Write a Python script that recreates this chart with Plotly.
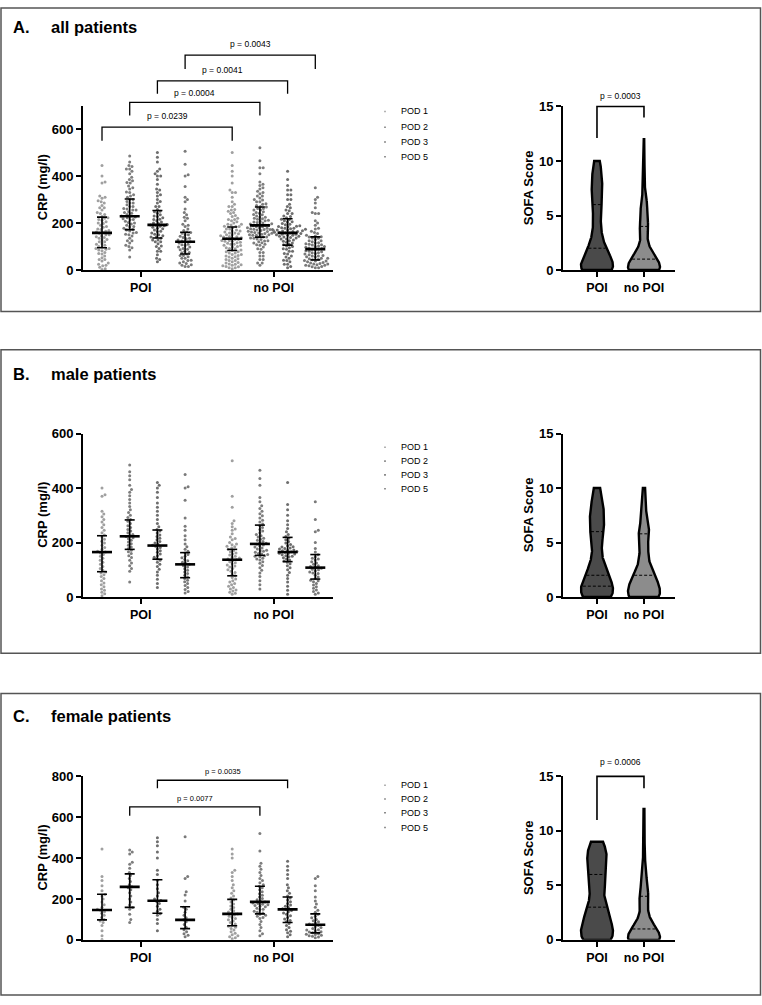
import numpy as np
import plotly.graph_objects as go

W, H = 762, 1005
FONT = "Liberation Sans"

pod_names = ["POD 1", "POD 2", "POD 3", "POD 5"]
group_names = ["POI", "no POI"]
pod_colors = ["#a0a0a0", "#7e7e7e", "#6e6e6e", "#7a7a7a"]

# ---------------- CRP (mg/l), male patients ----------------
male_poi_1 = [5, 12, 18, 25, 30, 38, 45, 52, 60, 68, 75, 82, 88, 92, 98, 105, 112, 120, 128, 135, 142, 150, 156, 162, 165, 168, 175, 182, 190, 198, 205, 212, 220, 228, 236, 245, 255, 265, 275, 285, 295, 305, 315, 370, 375, 400]
male_poi_2 = [55, 95, 105, 115, 125, 135, 145, 152, 160, 166, 172, 178, 184, 190, 196, 202, 208, 214, 218, 222, 226, 230, 236, 242, 248, 255, 262, 270, 278, 285, 292, 300, 310, 320, 332, 345, 358, 372, 385, 395, 410, 430, 445, 460, 485]
male_poi_3 = [35, 50, 65, 80, 92, 102, 112, 120, 128, 135, 140, 146, 152, 158, 164, 170, 176, 182, 186, 190, 194, 198, 204, 210, 216, 222, 228, 235, 242, 248, 258, 270, 285, 300, 315, 330, 345, 365, 385, 400, 410, 420]
male_poi_5 = [15, 20, 28, 35, 42, 50, 56, 62, 68, 74, 80, 86, 92, 98, 104, 110, 115, 120, 124, 128, 133, 138, 144, 150, 156, 162, 168, 175, 185, 195, 210, 225, 245, 260, 290, 355, 400, 405, 450]
male_nopoi_1 = [10, 14, 18, 22, 26, 30, 35, 40, 45, 50, 55, 60, 66, 72, 78, 84, 90, 95, 100, 105, 110, 114, 118, 122, 126, 130, 134, 137, 140, 143, 146, 150, 154, 158, 162, 166, 170, 175, 180, 185, 186, 192, 195, 200, 210, 215, 220, 232, 245, 250, 258, 270, 280, 330, 370, 500]
male_nopoi_2 = [30, 45, 60, 75, 88, 98, 108, 116, 124, 130, 136, 140, 142, 148, 150, 152, 156, 158, 160, 164, 168, 170, 172, 176, 180, 184, 188, 191, 194, 197, 200, 204, 208, 212, 216, 220, 225, 230, 236, 242, 248, 255, 262, 268, 275, 282, 290, 298, 306, 315, 325, 335, 350, 365, 410, 435, 465]
male_nopoi_3 = [10, 25, 40, 55, 68, 80, 90, 100, 108, 115, 122, 128, 132, 136, 140, 144, 148, 150, 152, 155, 158, 160, 161, 164, 166, 167, 170, 172, 173, 176, 178, 180, 184, 185, 188, 193, 198, 204, 210, 216, 222, 230, 240, 252, 265, 280, 300, 320, 340, 420]
male_nopoi_5 = [10, 15, 20, 26, 32, 38, 44, 50, 56, 60, 62, 68, 74, 80, 86, 88, 92, 97, 100, 102, 106, 110, 112, 115, 120, 125, 130, 136, 140, 142, 148, 155, 165, 178, 200, 240, 245, 285, 350]

# ---------------- CRP (mg/l), female patients ----------------
female_poi_1 = [2, 20, 45, 70, 85, 92, 100, 110, 120, 130, 138, 145, 150, 160, 172, 185, 200, 215, 222, 240, 265, 290, 310, 445]
female_poi_2 = [85, 100, 125, 150, 158, 170, 185, 200, 215, 230, 245, 255, 260, 270, 285, 300, 315, 330, 350, 370, 380, 420, 430, 440]
female_poi_3 = [45, 80, 100, 120, 128, 140, 150, 165, 178, 188, 192, 200, 215, 230, 250, 270, 292, 320, 340, 400, 430, 460, 480, 500]
female_poi_5 = [15, 22, 30, 40, 50, 62, 75, 88, 98, 108, 120, 135, 150, 160, 190, 220, 235, 300, 310, 505]
female_nopoi_1 = [5, 10, 15, 20, 25, 32, 40, 48, 56, 62, 66, 72, 78, 85, 92, 98, 104, 110, 116, 122, 126, 130, 136, 142, 150, 158, 166, 175, 185, 195, 205, 215, 228, 240, 255, 270, 290, 310, 330, 340, 400, 420, 445]
female_nopoi_2 = [20, 30, 45, 60, 75, 90, 105, 110, 115, 120, 125, 132, 135, 140, 148, 150, 155, 162, 165, 168, 172, 174, 178, 180, 185, 190, 196, 202, 210, 218, 226, 235, 245, 255, 262, 270, 280, 290, 300, 315, 330, 345, 360, 375, 435, 520]
female_nopoi_3 = [15, 25, 35, 42, 50, 60, 70, 80, 88, 95, 102, 110, 118, 125, 132, 138, 144, 148, 152, 158, 164, 170, 178, 186, 195, 205, 215, 228, 240, 255, 270, 300, 320, 340, 360, 385]
female_nopoi_5 = [10, 14, 18, 20, 22, 26, 28, 30, 35, 38, 40, 45, 48, 50, 55, 60, 65, 70, 74, 78, 82, 88, 94, 100, 108, 116, 125, 135, 145, 160, 175, 190, 210, 240, 265, 300, 310]

# ---------------- medians and interquartile ranges (POD 1, 2, 3, 5) ----------------
all_median_poi = [158, 229, 192, 120]
all_q1_poi = [95, 172, 136, 68]
all_q3_poi = [225, 302, 253, 161]
all_median_nopoi = [133, 190, 158, 89]
all_q1_nopoi = [83, 140, 106, 43]
all_q3_nopoi = [183, 268, 218, 141]

male_median_poi = [165, 223, 189, 120]
male_q1_poi = [93, 175, 139, 71]
male_q3_poi = [225, 283, 246, 163]
male_median_nopoi = [137, 195, 165, 108]
male_q1_nopoi = [78, 153, 130, 66]
male_q3_nopoi = [175, 264, 219, 156]

female_median_poi = [146, 259, 191, 98]
female_q1_poi = [98, 159, 130, 55]
female_q3_poi = [223, 323, 294, 162]
female_median_nopoi = [127, 186, 149, 74]
female_q1_nopoi = [69, 127, 85, 34]
female_q3_nopoi = [198, 262, 210, 127]

# ---------------- SOFA score frequency tables ----------------
sofa_scores = [0, 1, 2, 3, 4, 5, 6, 7, 8, 9, 10, 11, 12]
sofa_all_poi = [24, 20, 12, 7, 5, 5, 6, 7, 7, 6, 4, 0, 0]
sofa_all_nopoi = [70, 50, 20, 10, 18, 10, 14, 4, 3, 2, 2, 1, 1]
sofa_male_poi = [14, 14, 10, 6, 4, 4, 6, 6, 6, 4, 3, 0, 0]
sofa_male_nopoi = [40, 35, 25, 12, 10, 8, 14, 6, 5, 3, 3, 0, 0]
sofa_female_poi = [10, 10, 8, 6, 4, 5, 5, 6, 6, 4, 0, 0, 0]
sofa_female_nopoi = [30, 20, 8, 5, 8, 4, 4, 2, 1, 1, 1, 0, 1]

# quartile lines drawn in the violins [POI, no POI]
sofa_all_median = [2, 1]
sofa_all_q3 = [6, 4]
sofa_male_median = [2, 2]
sofa_male_q1 = [1, None]
sofa_male_q3 = [6, 5.8]
sofa_female_median = [3, 1]
sofa_female_q3 = [6, 4]

# ---------------- layout geometry (pixels) ----------------
SX_PX = (83, 333)
SX_RANGE = [0.314, 9.339]
VX_PX = (563, 675)
VX_RANGE = [-0.723, 1.66]
poi_pos = [1, 2, 3, 4]
nopoi_pos = [5.7, 6.7, 7.7, 8.7]
group_ticks = [2.4, 7.2]

panels = [
    dict(letter="A.", title="all patients", box=(1, 309), title_y=20,
         sy_px=(100, 267), sy_range=[0, 700], sy_ticks=[0, 200, 400, 600],
         vy_px=(101, 267), legend_y=[106, 122, 137, 152],
         poi=[male_poi_1 + female_poi_1, male_poi_2 + female_poi_2,
              male_poi_3 + female_poi_3, male_poi_5 + female_poi_5],
         nopoi=[male_nopoi_1 + female_nopoi_1, male_nopoi_2 + female_nopoi_2,
                male_nopoi_3 + female_nopoi_3, male_nopoi_5 + female_nopoi_5],
         med=(all_median_poi, all_median_nopoi), q1=(all_q1_poi, all_q1_nopoi),
         q3=(all_q3_poi, all_q3_nopoi),
         sofa=(sofa_all_poi, sofa_all_nopoi),
         sofa_lines=[sofa_all_median, sofa_all_q3],
         brackets=[(0, "p = 0.0239", 608, 550, 654, 8.5),
                   (1, "p = 0.0004", 713, 658, 755, 8.5),
                   (2, "p = 0.0041", 805, 750, 852, 8.5),
                   (3, "p = 0.0043", 914, 855, 961, 8.5)],
         vbracket=("p = 0.0003", 15, 12.1, 14.0, 16.0)),
    dict(letter="B.", title="male patients", box=(348, 656), title_y=373,
         sy_px=(433, 599), sy_range=[0, 600], sy_ticks=[0, 200, 400, 600],
         vy_px=(433, 599), legend_y=[447, 461, 475, 489],
         poi=[male_poi_1, male_poi_2, male_poi_3, male_poi_5],
         nopoi=[male_nopoi_1, male_nopoi_2, male_nopoi_3, male_nopoi_5],
         med=(male_median_poi, male_median_nopoi), q1=(male_q1_poi, male_q1_nopoi),
         q3=(male_q3_poi, male_q3_nopoi),
         sofa=(sofa_male_poi, sofa_male_nopoi),
         sofa_lines=[sofa_male_median, sofa_male_q1, sofa_male_q3],
         brackets=[], vbracket=None),
    dict(letter="C.", title="female patients", box=(697, 1003), title_y=720,
         sy_px=(781, 947), sy_range=[0, 800], sy_ticks=[0, 200, 400, 600, 800],
         vy_px=(781, 947), legend_y=[790, 804, 818, 833],
         poi=[female_poi_1, female_poi_2, female_poi_3, female_poi_5],
         nopoi=[female_nopoi_1, female_nopoi_2, female_nopoi_3, female_nopoi_5],
         med=(female_median_poi, female_median_nopoi), q1=(female_q1_poi, female_q1_nopoi),
         q3=(female_q3_poi, female_q3_nopoi),
         sofa=(sofa_female_poi, sofa_female_nopoi),
         sofa_lines=[sofa_female_median, sofa_female_q3],
         brackets=[(1, "p = 0.0077", 651, 607, 694, 7.5),
                   (2, "p = 0.0035", 781, 742, 824, 7.5)],
         vbracket=("p = 0.0006", 15, 11.0, 13.9, 16.3)),
]


def px_x(u, xpx, xr):
    return xpx[0] + (u - xr[0]) / (xr[1] - xr[0]) * (xpx[1] - xpx[0])


def px_y(v, ypx, yr):
    return ypx[1] - (v - yr[0]) / (yr[1] - yr[0]) * (ypx[1] - ypx[0])


def pap_x(p):
    return p / W


def pap_y(p):
    return 1 - p / H


def swarm(vals_px, d):
    vals_px = np.asarray(vals_px, float)
    out = np.zeros(len(vals_px))
    placed = []
    for i in np.argsort(vals_px, kind="stable"):
        y = vals_px[i]
        iv = []
        for xp, yp in placed:
            dy = abs(y - yp)
            if dy < d:
                w = np.sqrt(d * d - dy * dy)
                iv.append((xp - w, xp + w))
        cands = [0.0] + [a for a, b in iv] + [b for a, b in iv]
        cands.sort(key=lambda c: (abs(c), -c))
        for c in cands:
            if all(not (a + 1e-6 < c < b - 1e-6) for a, b in iv):
                out[i] = c
                break
        placed.append((out[i], y))
    return out


def kde(counts, grid, bw):
    s = np.array(sofa_scores, float)
    c = np.array(counts, float)
    dens = (c[None, :] * np.exp(-0.5 * ((grid[:, None] - s[None, :]) / bw) ** 2)).sum(axis=1)
    return dens / dens.max()


fig = go.Figure()
shapes = []
annotations = []
layout_axes = {}

axis_common = dict(showgrid=False, zeroline=False, showline=True, linecolor="black",
                   linewidth=2, ticks="outside", ticklen=5, tickwidth=2, tickcolor="black",
                   fixedrange=True)
tick_font = dict(family=FONT, size=13, color="black", weight="bold")
cat_font = dict(family=FONT, size=12.5, color="black", weight="bold")

x_px_per_u = (SX_PX[1] - SX_PX[0]) / (SX_RANGE[1] - SX_RANGE[0])
v_px_per_u = (VX_PX[1] - VX_PX[0]) / (VX_RANGE[1] - VX_RANGE[0])

for k, P in enumerate(panels):
    sx = "x" if k == 0 else f"x{2 * k + 1}"
    sy = "y" if k == 0 else f"y{2 * k + 1}"
    vx = f"x{2 * k + 2}"
    vy = f"y{2 * k + 2}"
    sxl = "xaxis" if k == 0 else f"xaxis{2 * k + 1}"
    syl = "yaxis" if k == 0 else f"yaxis{2 * k + 1}"
    vxl = f"xaxis{2 * k + 2}"
    vyl = f"yaxis{2 * k + 2}"

    ypx, yr = P["sy_px"], P["sy_range"]
    y_px_per_u = (ypx[1] - ypx[0]) / (yr[1] - yr[0])

    # ---- scatter (beeswarm) per POD ----
    for j in range(4):
        xs, ys = [], []
        for cols, centers in ((P["poi"], poi_pos), (P["nopoi"], nopoi_pos)):
            vals = cols[j]
            off = swarm(np.array(vals) * y_px_per_u, 3.3)
            xs += list(centers[j] + off / x_px_per_u)
            ys += list(vals)
        fig.add_trace(go.Scatter(x=xs, y=ys, mode="markers", xaxis=sx, yaxis=sy,
                                 marker=dict(size=3.0, color=pod_colors[j], symbol="circle"),
                                 name=pod_names[j], showlegend=False, hoverinfo="skip"))

    # ---- median and IQR bars ----
    mx, my, ex, ey = [], [], [], []
    hw_med = 10 / x_px_per_u
    hw_cap = 5 / x_px_per_u
    for g, centers in enumerate((poi_pos, nopoi_pos)):
        for j in range(4):
            c = centers[j]
            m, lo, hi = P["med"][g][j], P["q1"][g][j], P["q3"][g][j]
            mx += [c - hw_med, c + hw_med, None]
            my += [m, m, None]
            ex += [c, c, None, c - hw_cap, c + hw_cap, None, c - hw_cap, c + hw_cap, None]
            ey += [lo, hi, None, lo, lo, None, hi, hi, None]
    fig.add_trace(go.Scatter(x=ex, y=ey, mode="lines", xaxis=sx, yaxis=sy,
                             line=dict(color="black", width=1.6), showlegend=False, hoverinfo="skip"))
    fig.add_trace(go.Scatter(x=mx, y=my, mode="lines", xaxis=sx, yaxis=sy,
                             line=dict(color="black", width=2.6), showlegend=False, hoverinfo="skip"))

    # ---- violins ----
    vypx = P["vy_px"]
    hw = 16 / v_px_per_u
    for g, (counts, fill) in enumerate(zip(P["sofa"], ["#4a4a4a", "#8c8c8c"])):
        smax = max(s for s, c in zip(sofa_scores, counts) if c > 0)
        grid = np.linspace(0, smax, 240)
        dens = kde(counts, grid, 0.6)
        xv = list(g + dens * hw) + list(g - dens[::-1] * hw) + [g + dens[0] * hw]
        yv = list(grid) + list(grid[::-1]) + [grid[0]]
        fig.add_trace(go.Scatter(x=xv, y=yv, mode="lines", fill="toself", fillcolor=fill,
                                 line=dict(color="black", width=2.4), xaxis=vx, yaxis=vy,
                                 showlegend=False, hoverinfo="skip"))
        qx, qy = [], []
        for lev in P["sofa_lines"]:
            L = lev[g]
            if L is None:
                continue
            w = np.interp(L, grid, dens) * hw * 0.9
            qx += [g - w, g + w, None]
            qy += [L, L, None]
        fig.add_trace(go.Scatter(x=qx, y=qy, mode="lines", xaxis=vx, yaxis=vy,
                                 line=dict(color="black", width=1, dash="3px,2px"),
                                 showlegend=False, hoverinfo="skip"))

    # ---- axes ----
    layout_axes[sxl] = dict(axis_common, domain=[pap_x(SX_PX[0]), pap_x(SX_PX[1])], range=SX_RANGE,
                            anchor=sy, tickvals=group_ticks, ticktext=group_names, tickfont=cat_font)
    layout_axes[syl] = dict(axis_common, domain=[pap_y(ypx[1]), pap_y(ypx[0])], range=yr,
                            anchor=sx, tickvals=P["sy_ticks"], tickfont=tick_font)
    layout_axes[vxl] = dict(axis_common, domain=[pap_x(VX_PX[0]), pap_x(VX_PX[1])], range=VX_RANGE,
                            anchor=vy, tickvals=[0, 1], ticktext=group_names, tickfont=cat_font)
    layout_axes[vyl] = dict(axis_common, domain=[pap_y(vypx[1]), pap_y(vypx[0])], range=[0, 15],
                            anchor=vx, tickvals=[0, 5, 10, 15], tickfont=tick_font)

    # ---- axis titles ----
    annotations.append(dict(text="CRP (mg/l)", x=pap_x(42.5), y=pap_y((ypx[0] + ypx[1]) / 2),
                            xref="paper", yref="paper", textangle=-90, showarrow=False,
                            xanchor="center", yanchor="middle",
                            font=dict(family=FONT, size=13, color="black", weight="bold")))
    annotations.append(dict(text="SOFA Score", x=pap_x(528), y=pap_y((vypx[0] + vypx[1]) / 2),
                            xref="paper", yref="paper", textangle=-90, showarrow=False,
                            xanchor="center", yanchor="middle",
                            font=dict(family=FONT, size=13, color="black", weight="bold")))

    # ---- panel box and titles ----
    shapes.append(dict(type="rect", xref="paper", yref="paper", x0=pap_x(1), x1=pap_x(760.5),
                       y0=pap_y(P["box"][1]), y1=pap_y(P["box"][0]),
                       line=dict(color="#555555", width=1.5)))
    annotations.append(dict(text=P["letter"], x=pap_x(11), y=pap_y(P["title_y"]), xref="paper", yref="paper",
                            showarrow=False, xanchor="left", yanchor="middle",
                            font=dict(family=FONT, size=16.5, color="black", weight="bold")))
    annotations.append(dict(text=P["title"], x=pap_x(49), y=pap_y(P["title_y"]), xref="paper", yref="paper",
                            showarrow=False, xanchor="left", yanchor="middle",
                            font=dict(family=FONT, size=16.5, color="black", weight="bold")))

    # ---- legend (manual) ----
    for j, ly in enumerate(P["legend_y"]):
        shapes.append(dict(type="rect", xref="paper", yref="paper",
                           x0=pap_x(384.2), x1=pap_x(385.8), y0=pap_y(ly + 0.8), y1=pap_y(ly - 0.8),
                           fillcolor=pod_colors[j], line=dict(width=0)))
        annotations.append(dict(text=pod_names[j], x=pap_x(399), y=pap_y(ly), xref="paper", yref="paper",
                                showarrow=False, xanchor="left", yanchor="middle",
                                font=dict(family=FONT, size=9, color="black")))

    # ---- significance brackets (CRP) ----
    for (j, txt, top, bot, ty, fs) in P["brackets"]:
        x0 = pap_x(px_x(poi_pos[j], SX_PX, SX_RANGE))
        x1 = pap_x(px_x(nopoi_pos[j], SX_PX, SX_RANGE))
        yt = pap_y(px_y(top, ypx, yr))
        yb = pap_y(px_y(bot, ypx, yr))
        shapes.append(dict(type="path", xref="paper", yref="paper",
                           path=f"M {x0},{yb} L {x0},{yt} L {x1},{yt} L {x1},{yb}",
                           line=dict(color="black", width=1.3)))
        annotations.append(dict(text=txt, x=(x0 + x1) / 2, y=pap_y(px_y(ty, ypx, yr)),
                                xref="paper", yref="paper", showarrow=False,
                                xanchor="center", yanchor="middle",
                                font=dict(family=FONT, size=fs, color="black")))

    # ---- significance bracket (SOFA) ----
    if P["vbracket"]:
        txt, top, lb, rb, ty = P["vbracket"]
        x0 = pap_x(px_x(0, VX_PX, VX_RANGE))
        x1 = pap_x(px_x(1, VX_PX, VX_RANGE))
        yt = pap_y(px_y(top, vypx, [0, 15]))
        yl = pap_y(px_y(lb, vypx, [0, 15]))
        yrr = pap_y(px_y(rb, vypx, [0, 15]))
        shapes.append(dict(type="path", xref="paper", yref="paper",
                           path=f"M {x0},{yl} L {x0},{yt} L {x1},{yt} L {x1},{yrr}",
                           line=dict(color="black", width=1.6)))
        annotations.append(dict(text=txt, x=(x0 + x1) / 2, y=pap_y(px_y(ty, vypx, [0, 15])),
                                xref="paper", yref="paper", showarrow=False,
                                xanchor="center", yanchor="middle",
                                font=dict(family=FONT, size=8.5, color="black")))

fig.update_layout(width=W, height=H, autosize=False, margin=dict(l=0, r=0, t=0, b=0),
                  paper_bgcolor="white", plot_bgcolor="rgba(0,0,0,0)", showlegend=False,
                  font=dict(family=FONT, color="black"),
                  shapes=shapes, annotations=annotations, **layout_axes)

fig.write_html("out.html", config={"displayModeBar": False, "staticPlot": True},
               post_script="document.body.style.margin='0';document.body.style.overflow='hidden';")
